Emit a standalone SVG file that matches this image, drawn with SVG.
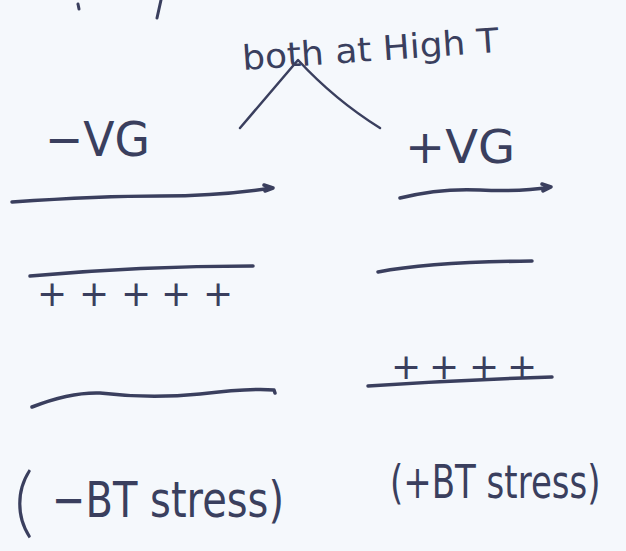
<svg xmlns="http://www.w3.org/2000/svg" width="626" height="551" viewBox="0 0 626 551">
<style>
.ink{fill:none;stroke:#3a3f5e;stroke-linecap:round;stroke-linejoin:round}
.line{stroke-width:3.5}
.txt{font-family:"DejaVu Sans","Liberation Sans",sans-serif;fill:#3a3f5e;font-weight:normal}
.plus{font-family:"DejaVu Sans","Liberation Sans",sans-serif;fill:#3a3f5e;font-size:36px;text-anchor:middle}
.paren{font-family:Lato,"Liberation Sans",sans-serif;font-weight:300;fill:#3a3f5e}
</style>
<rect width="626" height="551" fill="#f5f8fc"/>
<g id="fragments" class="ink" stroke-width="3">
<path d="M78,4 L79,9"/>
<path d="M161,0 L157,18"/>
</g>
<g id="title">
<text class="txt" x="243" y="70" font-size="34" textLength="257" lengthAdjust="spacingAndGlyphs" transform="rotate(-4 243 70)">both at High T</text>
</g>
<g id="connectors" class="ink" stroke-width="2.5">
<path d="M240,128 L298,60 Q335,100 380,128"/>
</g>
<g id="left">
<text class="txt" x="45" y="156" font-size="48" textLength="105" lengthAdjust="spacingAndGlyphs">−VG</text>
<path class="ink line" d="M12,202 Q100,196 160,196 T272,188 M264,185 L273,188 L265,191"/>
<path class="ink line" d="M30,276 Q140,266 253,266"/>
<text class="plus" x="52 94 136 176 218" y="306">+++++</text>
<path class="ink line" d="M32,407 Q70,392 100,393 Q150,399 200,394 Q250,388 274,390 L275,393"/>
<text class="paren" x="14" y="528" font-size="76">(</text>
<text class="txt" font-size="40" transform="translate(52,517) scale(1,1.25)">−BT stress)</text>
</g>
<g id="right">
<text class="txt" x="405" y="163" font-size="46" textLength="110" lengthAdjust="spacingAndGlyphs">+VG</text>
<path class="ink line" d="M400,198 Q440,188 480,190 Q520,192 550,187 M542,184 L551,187 L543,191"/>
<path class="ink line" d="M378,272 Q430,262 532,261"/>
<text class="plus" x="406 444 484 522" y="379">++++</text>
<path class="ink line" d="M368,386 Q460,380 552,377"/>
<text class="txt" font-size="34" transform="translate(390,498) scale(1,1.35)">(+BT stress)</text>
</g>
</svg>
